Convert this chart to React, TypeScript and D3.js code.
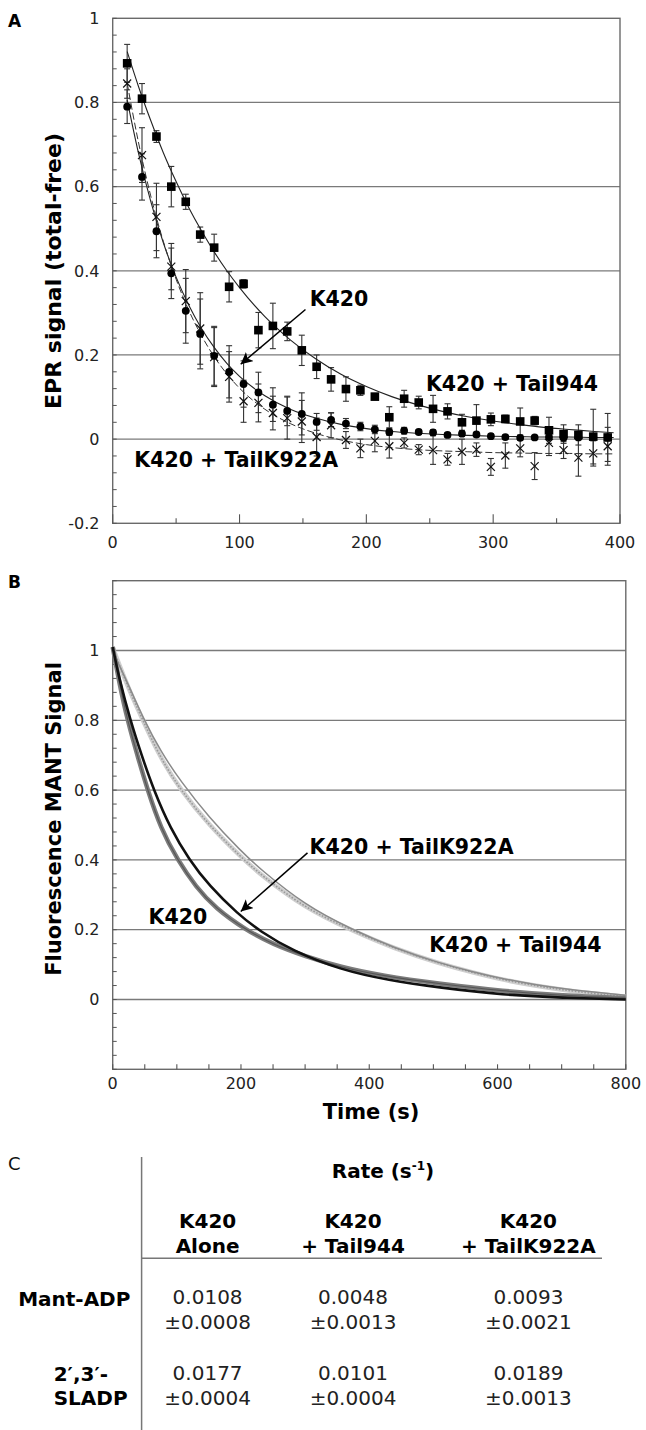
import React from "react";
import * as d3 from "d3";

// ---- Panel A: EPR signal, sampled every ~11.4 s ----
const eprTimes = [11.4, 23.1, 34.5, 46.2, 57.6, 69.0, 80.0, 91.8, 103.2, 114.9, 126.3, 137.6, 149.1, 160.8, 172.2, 183.9, 195.3, 206.7, 218.1, 229.8, 241.3, 252.6, 264.0, 275.4, 286.8, 298.2, 309.6, 321.3, 332.7, 344.0, 355.5, 367.2, 378.9, 390.3];

const tail944Epr = [0.893, 0.809, 0.719, 0.600, 0.564, 0.486, 0.455, 0.362, 0.369, 0.259, 0.269, 0.256, 0.211, 0.172, 0.142, 0.119, 0.116, 0.101, 0.052, 0.096, 0.087, 0.072, 0.066, 0.040, 0.044, 0.047, 0.048, 0.042, 0.044, 0.021, 0.012, 0.010, 0.006, 0.004];
const tail944Err = [0.045, 0.036, 0.014, 0.048, 0.018, 0.018, 0.032, 0.036, 0.010, 0.042, 0.054, 0.022, 0.036, 0.028, 0.028, 0.029, 0.012, 0.005, 0.025, 0.020, 0.015, 0.032, 0.018, 0.019, 0.038, 0.015, 0.009, 0.032, 0.010, 0.031, 0.022, 0.024, 0.065, 0.057];

const k420Epr = [0.790, 0.623, 0.494, 0.394, 0.305, 0.250, 0.198, 0.160, 0.131, 0.111, 0.082, 0.067, 0.060, 0.041, 0.046, 0.037, 0.030, 0.023, 0.017, 0.020, 0.017, 0.016, 0.010, 0.013, 0.011, 0.007, 0.005, 0.003, 0.004, 0.005, 0.003, 0.004, 0.005, 0.004];
const k420Err = [0.040, 0.055, 0.063, 0.060, 0.077, 0.083, 0.070, 0.062, 0.055, 0.048, 0.040, 0.035, 0.050, 0.020, 0.016, 0.012, 0.010, 0.010, 0.008, 0.008, 0.006, 0.006, 0.005, 0.006, 0.005, 0.005, 0.005, 0.004, 0.004, 0.005, 0.004, 0.004, 0.004, 0.004];

const k922Epr = [0.845, 0.675, 0.528, 0.410, 0.328, 0.263, 0.195, 0.148, 0.090, 0.086, 0.062, 0.050, 0.042, 0.005, 0.033, -0.002, -0.022, -0.004, -0.017, -0.009, -0.025, -0.026, -0.048, -0.030, -0.025, -0.066, -0.039, -0.022, -0.064, -0.009, -0.026, -0.044, -0.034, -0.017];
const k922Err = [0.035, 0.065, 0.080, 0.055, 0.075, 0.085, 0.070, 0.060, 0.050, 0.045, 0.040, 0.050, 0.050, 0.045, 0.030, 0.020, 0.022, 0.026, 0.028, 0.012, 0.012, 0.034, 0.014, 0.030, 0.016, 0.020, 0.030, 0.020, 0.032, 0.030, 0.020, 0.044, 0.030, 0.045];

// fitted curves
const fitTimesA = [11.4, 20, 30, 40, 50, 60, 70, 80, 90, 100, 120, 140, 160, 180, 200, 220, 240, 260, 280, 300, 320, 340, 360, 380, 395];
const tail944FitA = [0.921, 0.841, 0.757, 0.680, 0.612, 0.550, 0.495, 0.445, 0.400, 0.360, 0.291, 0.236, 0.191, 0.154, 0.125, 0.101, 0.082, 0.066, 0.053, 0.043, 0.035, 0.028, 0.023, 0.018, 0.015];
const k420FitA = [0.806, 0.684, 0.565, 0.466, 0.385, 0.318, 0.263, 0.218, 0.180, 0.149, 0.103, 0.071, 0.050, 0.035, 0.025, 0.018, 0.014, 0.011, 0.009, 0.007, 0.006, 0.005, 0.005, 0.004, 0.004];
const k922FitA = [0.846, 0.710, 0.578, 0.469, 0.380, 0.306, 0.246, 0.196, 0.155, 0.121, 0.071, 0.037, 0.014, -0.002, -0.013, -0.020, -0.025, -0.028, -0.030, -0.032, -0.033, -0.034, -0.034, -0.035, -0.035];

// ---- Panel B: fluorescence MANT signal ----
const tail944Times = [0, 10, 25, 47, 75, 106, 150, 200, 231, 300, 370, 440, 510, 560, 609, 660, 700, 750, 800];
const tail944Mant = [1.01, 0.96, 0.89, 0.80, 0.69, 0.60, 0.50, 0.408, 0.357, 0.262, 0.20, 0.145, 0.103, 0.078, 0.056, 0.039, 0.028, 0.017, 0.008];
const tail944MantFit = [1.0, 0.958, 0.9, 0.808, 0.71, 0.625, 0.522, 0.425, 0.372, 0.27, 0.203, 0.147, 0.104, 0.08, 0.059, 0.042, 0.032, 0.021, 0.012];

const k420Times = [0, 10, 23, 40, 54.5, 75, 101, 130, 160, 207, 250, 300, 355, 420, 510, 609, 700, 800];
const k420Mant = [1.01, 0.91, 0.80, 0.69, 0.60, 0.49, 0.40, 0.322, 0.262, 0.20, 0.158, 0.124, 0.093, 0.068, 0.045, 0.024, 0.011, 0.004];

const k922Times = [0, 10, 27.5, 45, 64, 90, 119.5, 150, 195, 230, 280, 355, 430, 510, 609, 700, 800];
const k922Mant = [1.01, 0.92, 0.80, 0.70, 0.60, 0.49, 0.40, 0.327, 0.245, 0.195, 0.14, 0.085, 0.055, 0.034, 0.013, 0.005, 0.0];

const yTicksA = [-0.2, 0, 0.2, 0.4, 0.6, 0.8, 1];
const xTicksA = [0, 100, 200, 300, 400];
const yTicksB = [0, 0.2, 0.4, 0.6, 0.8, 1];
const xTicksB = [0, 200, 400, 600, 800];

// ---- Panel C: table ----
const colHeads = [["K420", "Alone"], ["K420", "+ Tail944"], ["K420", "+ TailK922A"]];
const rowHeads = [["Mant-ADP"], ["2\u2032,3\u2032-", "SLADP"]];
const rateVals = [["0.0108", "0.0048", "0.0093"], ["0.0177", "0.0101", "0.0189"]];
const rateErrs = [["\u00b10.0008", "\u00b10.0013", "\u00b10.0021"], ["\u00b10.0004", "\u00b10.0004", "\u00b10.0013"]];

const FONT = "DejaVu Sans, Verdana, sans-serif";

export default function App() {
  const xA = d3.scaleLinear().domain([0, 400]).range([112.7, 620]);
  const yA = d3.scaleLinear().domain([-0.2, 1]).range([523.3, 18.3]);
  const xB = d3.scaleLinear().domain([0, 800]).range([112.7, 625.8]);
  const yB = d3.scaleLinear().domain([-0.2, 1.2]).range([1069.3, 580.7]);

  const minorA = d3.range(0, 31).map((i) => -0.2 + i * 0.04);
  const minorB = d3.range(0, 36).map((i) => -0.2 + i * 0.04);
  const xMinorA = d3.range(0, 9).map((i) => i * 50);
  const xMinorB = d3.range(0, 17).map((i) => i * 50);

  const lineA = (ts: number[], vs: number[]) =>
    d3.line<number>().x((_, i) => xA(ts[i])).y((v) => yA(v)).curve(d3.curveMonotoneX)(vs) || "";
  const lineB = (ts: number[], vs: number[]) =>
    d3.line<number>().x((_, i) => xB(ts[i])).y((v) => yB(v)).curve(d3.curveBasis)(vs) || "";

  const errBars = (vals: number[], errs: number[], key: string) =>
    vals.map((v, i) => {
      const x = xA(eprTimes[i]);
      const y0 = yA(v - errs[i]);
      const y1 = yA(v + errs[i]);
      return (
        <g key={key + i} stroke="#333" strokeWidth={1.1}>
          <line x1={x} x2={x} y1={y0} y2={y1} />
          <line x1={x - 3} x2={x + 3} y1={y0} y2={y0} />
          <line x1={x - 3} x2={x + 3} y1={y1} y2={y1} />
        </g>
      );
    });

  const colX = [207.6, 353, 528.4];

  return (
    <div style={{ position: "absolute", left: 0, top: 0 }}>
      <svg width={646} height={1430} style={{ display: "block", background: "#fff" }} fontFamily={FONT}>
        <defs>
          <marker id="arr" viewBox="0 0 10 10" refX="10" refY="5" markerWidth="12" markerHeight="12" markerUnits="userSpaceOnUse" orient="auto">
            <path d="M0,0 L10,5 L0,10 L2.5,5 z" fill="#000" />
          </marker>
        </defs>

        {/* ================= Panel A ================= */}
        <text x={8} y={27} fontSize={17} fontWeight="bold">A</text>
        {yTicksA.filter((t) => t > -0.1 && t < 0.9).map((t) => (
          <line key={"ga" + t} x1={xA(0)} x2={xA(400)} y1={yA(t)} y2={yA(t)} stroke="#7a7a7a" strokeWidth={1.3} />
        ))}
        <rect x={xA(0)} y={yA(1)} width={xA(400) - xA(0)} height={yA(-0.2) - yA(1)} fill="none" stroke="#6a6a6a" strokeWidth={1.4} />
        {minorA.map((t, i) => (
          <line key={"ma" + i} x1={xA(0)} x2={xA(0) + 4} y1={yA(t)} y2={yA(t)} stroke="#555" strokeWidth={1} />
        ))}
        {xMinorA.map((t) => (
          <line key={"xa" + t} x1={xA(t)} x2={xA(t)} y1={yA(-0.2)} y2={yA(-0.2) - (t % 100 === 0 ? 9 : 5)} stroke="#555" strokeWidth={1.1} />
        ))}
        {yTicksA.map((t) => (
          <text key={"ya" + t} x={99.5} y={yA(t)} dy="0.36em" fontSize={16} textAnchor="end" fill="#222">{t}</text>
        ))}
        {xTicksA.map((t) => (
          <text key={"xla" + t} x={xA(t)} y={548} fontSize={16} textAnchor="middle" fill="#222">{t}</text>
        ))}
        <text transform={`translate(61,271) rotate(-90)`} fontSize={22} fontWeight="bold" textAnchor="middle">EPR signal (total-free)</text>

        {errBars(k922Epr, k922Err, "ek")}
        {errBars(tail944Epr, tail944Err, "et")}
        {errBars(k420Epr, k420Err, "ec")}

        <path d={lineA(fitTimesA, tail944FitA)} fill="none" stroke="#222" strokeWidth={1.1} />
        <path d={lineA(fitTimesA, k420FitA)} fill="none" stroke="#222" strokeWidth={1.1} />
        <path d={lineA(fitTimesA, k922FitA)} fill="none" stroke="#333" strokeWidth={1} strokeDasharray="7 3" />

        {k922Epr.map((v, i) => {
          const x = xA(eprTimes[i]);
          const y = yA(v);
          return (
            <g key={"xm" + i} stroke="#111" strokeWidth={1.2}>
              <line x1={x - 4} x2={x + 4} y1={y - 4} y2={y + 4} />
              <line x1={x - 4} x2={x + 4} y1={y + 4} y2={y - 4} />
            </g>
          );
        })}
        {tail944Epr.map((v, i) => (
          <rect key={"sq" + i} x={xA(eprTimes[i]) - 4.3} y={yA(v) - 4.3} width={8.6} height={8.6} fill="#000" />
        ))}
        {k420Epr.map((v, i) => (
          <circle key={"ci" + i} cx={xA(eprTimes[i])} cy={yA(v)} r={3.9} fill="#000" />
        ))}

        <text x={xA(155.3)} y={yA(0.316)} fontSize={20.5} fontWeight="bold">K420</text>
        <line x1={xA(152)} y1={yA(0.308)} x2={xA(100.9)} y2={yA(0.178)} stroke="#000" strokeWidth={1.5} markerEnd="url(#arr)" />
        <text x={xA(247)} y={yA(0.115)} fontSize={20.5} fontWeight="bold">K420 + Tail944</text>
        <text x={xA(17)} y={yA(-0.066)} fontSize={20.5} fontWeight="bold">K420 + TailK922A</text>

        {/* ================= Panel B ================= */}
        <text x={8} y={588} fontSize={17} fontWeight="bold">B</text>
        {yTicksB.map((t) => (
          <line key={"gb" + t} x1={xB(0)} x2={xB(800)} y1={yB(t)} y2={yB(t)} stroke="#7a7a7a" strokeWidth={1.3} />
        ))}
        <rect x={xB(0)} y={yB(1.2)} width={xB(800) - xB(0)} height={yB(-0.2) - yB(1.2)} fill="none" stroke="#6a6a6a" strokeWidth={1.4} />
        {minorB.map((t, i) => (
          <line key={"mb" + i} x1={xB(0)} x2={xB(0) + 4} y1={yB(t)} y2={yB(t)} stroke="#555" strokeWidth={1} />
        ))}
        {xMinorB.map((t) => (
          <line key={"xb" + t} x1={xB(t)} x2={xB(t)} y1={yB(-0.2)} y2={yB(-0.2) - 5} stroke="#555" strokeWidth={1.1} />
        ))}
        {yTicksB.map((t) => (
          <text key={"yb" + t} x={99.5} y={yB(t)} dy="0.36em" fontSize={16} textAnchor="end" fill="#222">{t}</text>
        ))}
        {xTicksB.map((t) => (
          <text key={"xlb" + t} x={xB(t)} y={1089} fontSize={16} textAnchor="middle" fill="#222">{t}</text>
        ))}
        <text transform={`translate(61,819) rotate(-90)`} fontSize={21} fontWeight="bold" textAnchor="middle">Fluorescence MANT Signal</text>
        <text x={371} y={1119} fontSize={21} fontWeight="bold" textAnchor="middle">Time (s)</text>

        <path d={lineB(tail944Times, tail944Mant)} fill="none" stroke="#cfcfcf" strokeWidth={4.5} />
        <path d={lineB(tail944Times, tail944Mant)} fill="none" stroke="#9a9a9a" strokeWidth={1.6} strokeDasharray="1.6 1.6" />
        <path d={lineB(tail944Times, tail944MantFit)} fill="none" stroke="#8a8a8a" strokeWidth={1.5} />
        <path d={lineB(k420Times, k420Mant)} fill="none" stroke="#7c7c7c" strokeWidth={4.5} />
        <path d={lineB(k420Times, k420Mant)} fill="none" stroke="#555" strokeWidth={1.1} />
        <path d={lineB(k922Times, k922Mant)} fill="none" stroke="#111" strokeWidth={2.6} />

        <text x={xB(307)} y={yB(0.416)} fontSize={20.5} fontWeight="bold">K420 + TailK922A</text>
        <line x1={xB(303.7)} y1={yB(0.42)} x2={xB(199.6)} y2={yB(0.252)} stroke="#000" strokeWidth={1.5} markerEnd="url(#arr)" />
        <text x={xB(56)} y={yB(0.216)} fontSize={20.5} fontWeight="bold">K420</text>
        <text x={xB(493.6)} y={yB(0.1375)} fontSize={20.5} fontWeight="bold">K420 + Tail944</text>

        {/* ================= Panel C ================= */}
        <text x={8} y={1170} fontSize={18} fill="#111">C</text>
        <line x1={141.6} x2={141.6} y1={1157} y2={1430} stroke="#777" strokeWidth={1.5} />
        <line x1={141.6} x2={602} y1={1258.3} y2={1258.3} stroke="#777" strokeWidth={1.5} />
        <text x={383} y={1178} fontSize={20} fontWeight="bold" textAnchor="middle">
          Rate (s<tspan fontSize={12} dy={-8}>-1</tspan><tspan dy={8}>)</tspan>
        </text>
        {colHeads.map((h, i) => (
          <g key={"ch" + i}>
            <text x={colX[i]} y={1228} fontSize={20} fontWeight="bold" textAnchor="middle">{h[0]}</text>
            <text x={colX[i]} y={1253} fontSize={20} fontWeight="bold" textAnchor="middle">{h[1]}</text>
          </g>
        ))}
        <text x={130.4} y={1305.6} fontSize={20} fontWeight="bold" textAnchor="end">{rowHeads[0][0]}</text>
        <text x={53.7} y={1380.6} fontSize={20} fontWeight="bold">{rowHeads[1][0]}</text>
        <text x={53.7} y={1405} fontSize={20} fontWeight="bold">{rowHeads[1][1]}</text>
        {rateVals.map((row, r) =>
          row.map((v, c) => (
            <g key={"v" + r + c} fill="#222">
              <text x={colX[c]} y={r === 0 ? 1304 : 1379.6} fontSize={20} textAnchor="middle">{v}</text>
              <text x={colX[c]} y={r === 0 ? 1329 : 1405} fontSize={20} textAnchor="middle">{rateErrs[r][c]}</text>
            </g>
          ))
        )}
      </svg>
    </div>
  );
}
